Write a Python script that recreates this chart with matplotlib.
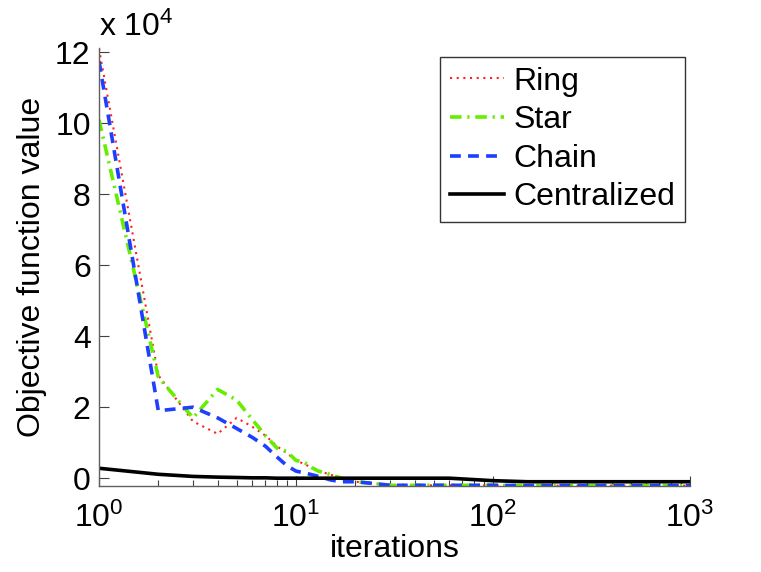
import numpy as np
import matplotlib
matplotlib.use("Agg")
import matplotlib.pyplot as plt
from matplotlib.ticker import LogLocator, NullFormatter, FixedLocator

plt.rcParams['font.family'] = ['Liberation Sans', 'DejaVu Sans']
plt.rcParams['mathtext.fontset'] = 'custom'
plt.rcParams['mathtext.rm'] = 'Liberation Sans'
plt.rcParams['mathtext.it'] = 'Liberation Sans:italic'

# values in units of 10^4
iters = [1, 2, 3, 4, 5, 6, 7, 8, 9, 10, 11, 12, 13, 14, 15, 17, 20, 25, 30, 40, 60, 100, 150, 300, 1000]
ring = [12.1, 2.9, 1.6, 1.25, 1.7, 1.45, 1.2, 0.9, 0.7, 0.5, 0.4, 0.3, 0.2, 0.15, 0.1, 0.0,
        -0.1, -0.15, -0.2, -0.2, -0.2, -0.2, -0.21, -0.21, -0.21]
star = [10.1, 2.85, 1.7, 2.5, 2.2, 1.65, 1.2, 0.85, 0.75, 0.5, 0.45, 0.3, 0.2, 0.15, 0.1, 0.0,
        -0.1, -0.15, -0.2, -0.2, -0.2, -0.2, -0.21, -0.21, -0.21]
chain = [11.75, 1.9, 2.0, 1.7, 1.4, 1.15, 0.9, 0.6, 0.35, 0.2, 0.15, 0.1, 0.05, 0.0, -0.05, -0.1,
         -0.1, -0.15, -0.2, -0.2, -0.2, -0.2, -0.21, -0.21, -0.21]
central = [0.28, 0.11, 0.05, 0.03, 0.02, 0.01, 0.01, 0.0, 0.0, 0.0, 0.0, 0.0, 0.0, 0.0, 0.0, 0.0,
           0.0, 0.0, 0.0, 0.0, 0.0, -0.07, -0.1, -0.1, -0.1]

FS = 23

fig = plt.figure(figsize=(7.61, 5.72), dpi=100)
ax = fig.add_axes([99/761, 1 - 486/572, (690 - 99)/761, (486 - 48)/572])

ax.plot(iters, ring, color='#ff2020', linestyle=(0, (1, 2.2)), linewidth=1.5, label='Ring')
ax.plot(iters, star, color='#66ee00', linestyle=(0, (3.2, 1.6, 0.6, 1.6)), linewidth=2.6, label='Star')
ax.plot(iters, chain, color='#1f3fff', linestyle=(0, (3, 2)), linewidth=2.6, label='Chain')
ax.plot(iters, central, color='black', linestyle='-', linewidth=2.6, label='Centralized')

ax.set_xscale('log')
ax.set_xlim(1, 1000)
ax.set_ylim(-0.22, 12.12)
ax.yaxis.set_major_locator(FixedLocator([0, 2, 4, 6, 8, 10, 12]))
ax.xaxis.set_major_locator(LogLocator(base=10, numticks=10))
ax.xaxis.set_minor_locator(LogLocator(base=10, subs=np.arange(2, 10), numticks=10))
ax.xaxis.set_minor_formatter(NullFormatter())

for s in ['top', 'right']:
    ax.spines[s].set_visible(False)
for s in ['left', 'bottom']:
    ax.spines[s].set_color('#606060')
    ax.spines[s].set_linewidth(1.0)

ax.tick_params(axis='both', which='major', direction='in', length=7, width=0.8,
               color='#404040', labelsize=FS, pad=6)
ax.tick_params(axis='x', which='minor', direction='in', length=4, width=0.8, color='#404040')
ax.tick_params(axis='x', which='major', pad=12)

ax.set_xlabel('iterations', fontsize=FS, labelpad=0)
ax.set_ylabel('Objective function value', fontsize=FS, labelpad=6)
ax.text(0.0, 1.012, r'x 10$^{4}$', transform=ax.transAxes, fontsize=FS, ha='left', va='bottom')

leg = ax.legend(loc='upper left', bbox_to_anchor=(440/761, 1 - 57/572), bbox_transform=fig.transFigure,
                fontsize=FS, frameon=True, fancybox=False, handlelength=1.7, handletextpad=0.3,
                labelspacing=0.27, borderpad=0.3, borderaxespad=0)
leg.get_frame().set_edgecolor('black')
leg.get_frame().set_linewidth(1.0)

fig.savefig('out.png', dpi=100)
